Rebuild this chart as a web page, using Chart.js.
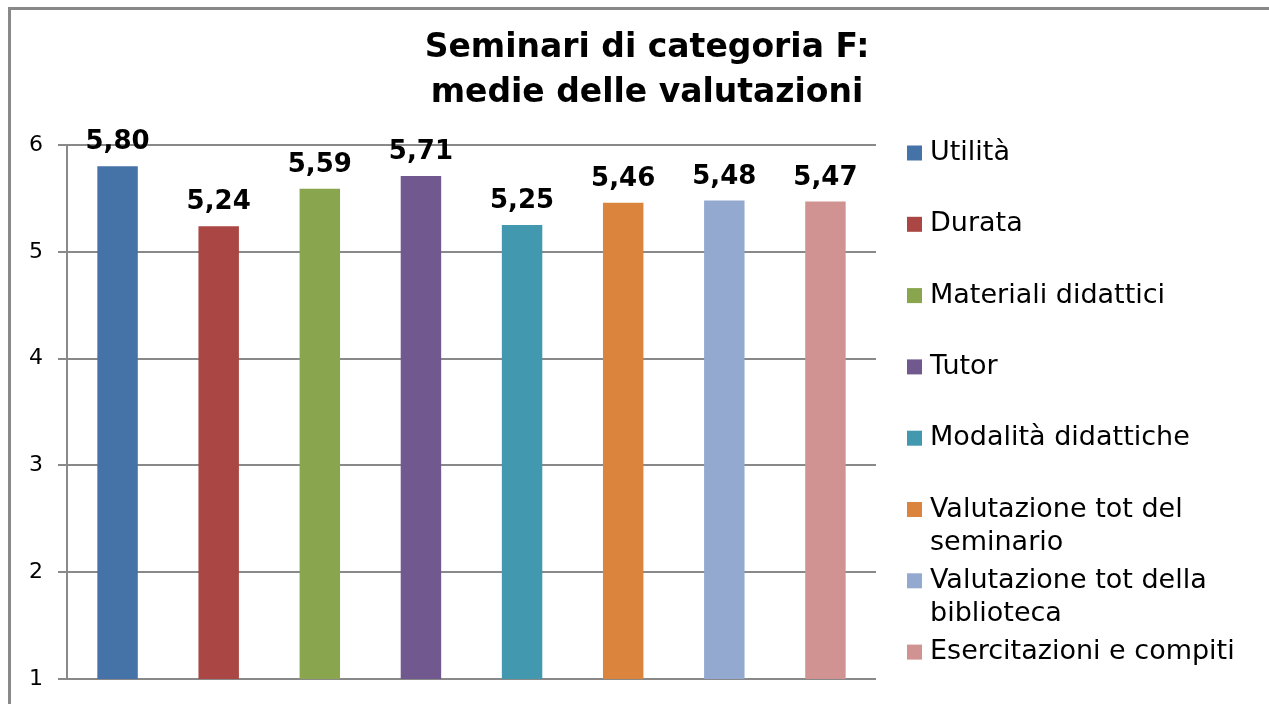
<!DOCTYPE html>
<html>
<head>
<meta charset="utf-8">
<script src="https://cdn.jsdelivr.net/npm/chart.js@4.4.0/dist/chart.umd.min.js"></script>
<style>
  body { margin: 0; background: #fff; }
  canvas { display: block; }
</style>
</head>
<body>
<canvas id="chart" width="1269" height="704"></canvas>
<script>
const categories = ['Utilità', 'Durata', 'Materiali didattici', 'Tutor', 'Modalità didattiche',
  'Valutazione tot del seminario', 'Valutazione tot della biblioteca', 'Esercitazioni e compiti'];
const values = [5.80, 5.24, 5.59, 5.71, 5.25, 5.46, 5.48, 5.47];
const colors = ['#4572A7', '#AA4643', '#89A54E', '#71588F', '#4198AF', '#DB843D', '#93A9CF', '#D19392'];
const titleLines = ['Seminari di categoria F:', 'medie delle valutazioni'];

Chart.defaults.font.family = 'DejaVu Sans';
Chart.defaults.color = '#000';

const gridGray = '#898989';

// cornice grigia in alto e a sinistra + titolo centrato sul riquadro
const framePlugin = {
  id: 'frame',
  beforeDraw(chart) {
    const ctx = chart.ctx;
    ctx.save();
    ctx.fillStyle = '#fff';
    ctx.fillRect(0, 0, chart.width, chart.height);
    ctx.strokeStyle = gridGray;
    ctx.lineWidth = 3;
    ctx.beginPath();
    ctx.moveTo(9.5, chart.height);
    ctx.lineTo(9.5, 8.5);
    ctx.lineTo(chart.width, 8.5);
    ctx.stroke();

    ctx.font = 'bold 33px "DejaVu Sans"';
    ctx.fillStyle = '#000';
    ctx.textAlign = 'center';
    ctx.textBaseline = 'middle';
    titleLines.forEach((t, i) => ctx.fillText(t, 647, 48 + i * 45));
    ctx.restore();
  }
};

// etichette dei valori sopra le barre
const valueLabels = {
  id: 'valueLabels',
  afterDatasetsDraw(chart) {
    const ctx = chart.ctx;
    const meta = chart.getDatasetMeta(0);
    ctx.save();
    ctx.font = 'bold 26px "DejaVu Sans"';
    ctx.fillStyle = '#000';
    ctx.textAlign = 'center';
    ctx.textBaseline = 'alphabetic';
    meta.data.forEach((bar, i) => {
      ctx.fillText(values[i].toFixed(2).replace('.', ','), bar.x, bar.y - 17);
    });
    ctx.restore();
  }
};

// legenda a destra, stile Excel
const sideLegend = {
  id: 'sideLegend',
  afterDraw(chart) {
    const ctx = chart.ctx;
    const area = chart.chartArea;
    const x0 = area.right + 31;
    const maxW = chart.width - x0 - 25;
    ctx.save();
    ctx.font = '27px "DejaVu Sans"';
    ctx.textBaseline = 'middle';
    ctx.textAlign = 'left';
    categories.forEach((name, i) => {
      const y = area.top + 8 + i * 71.3;
      // a capo per parole
      const words = name.split(' ');
      const lines = [];
      let cur = '';
      words.forEach(w => {
        const test = cur ? cur + ' ' + w : w;
        if (ctx.measureText(test).width > maxW && cur) {
          lines.push(cur);
          cur = w;
        } else {
          cur = test;
        }
      });
      lines.push(cur);
      ctx.fillStyle = colors[i];
      ctx.fillRect(x0, y - 7.5, 15, 15);
      ctx.fillStyle = '#000';
      lines.forEach((ln, j) => ctx.fillText(ln, x0 + 23, y + j * 33));
    });
    ctx.restore();
  }
};

new Chart(document.getElementById('chart'), {
  type: 'bar',
  data: {
    labels: categories,
    datasets: [{
      data: values,
      backgroundColor: colors,
      borderWidth: 0,
      categoryPercentage: 0.8,
      barPercentage: 0.5
    }]
  },
  options: {
    responsive: false,
    animation: false,
    layout: { padding: { left: 10, right: 393, top: 145, bottom: 25 } },
    plugins: {
      legend: { display: false },
      tooltip: { enabled: false },
      title: { display: false }
    },
    scales: {
      x: {
        display: false
      },
      y: {
        min: 1,
        max: 6,
        ticks: { stepSize: 1, padding: 15, font: { size: 22, lineHeight: 0.6 }, color: '#000' },
        grid: { color: gridGray, lineWidth: 2, tickLength: 9 },
        border: { color: gridGray, width: 2 },
        afterFit(scale) { scale.width = 57; }
      }
    }
  },
  plugins: [framePlugin, valueLabels, sideLegend]
});
</script>
</body>
</html>
